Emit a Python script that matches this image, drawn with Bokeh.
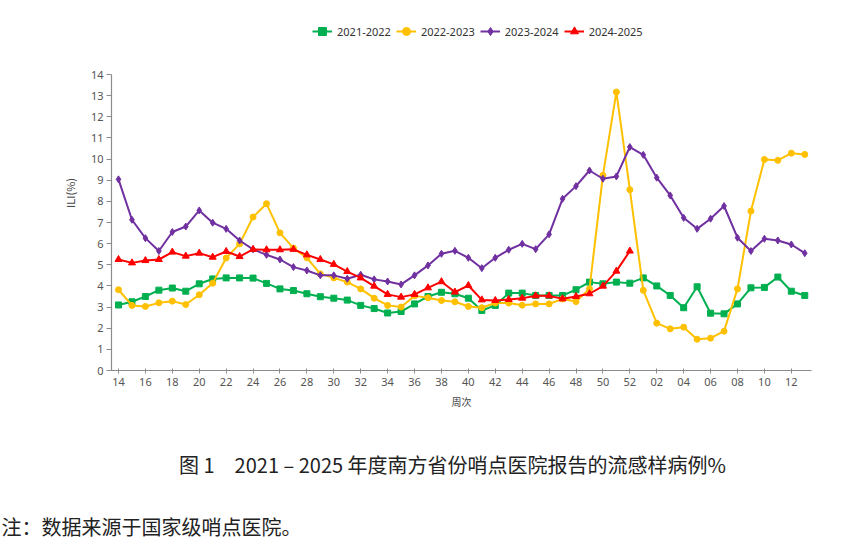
from bokeh.plotting import figure
from bokeh.models import Range1d, Legend, LegendItem, Label, FixedTicker
from bokeh.layouts import column
from bokeh.embed import file_html
from bokeh.resources import INLINE

weeks = [str(w) for w in range(14, 53)] + ["%02d" % w for w in range(1, 14)]

s2122 = [3.1, 3.25, 3.5, 3.8, 3.9, 3.75, 4.1, 4.33, 4.38, 4.38, 4.37, 4.12, 3.86, 3.78,
         3.63, 3.49, 3.42, 3.33, 3.08, 2.93, 2.72, 2.79, 3.15, 3.5, 3.7, 3.63,
         3.42, 2.84, 3.08, 3.66, 3.66, 3.55, 3.55, 3.55, 3.82, 4.18, 4.1, 4.18, 4.13,
         4.38, 4.0, 3.55, 2.97, 3.96, 2.71, 2.68, 3.15, 3.91, 3.93, 4.42, 3.75, 3.55]
s2223 = [3.82, 3.08, 3.03, 3.2, 3.28, 3.12, 3.58, 4.13, 5.32, 5.99, 7.26, 7.89, 6.51, 5.79,
         5.33, 4.57, 4.38, 4.18, 3.86, 3.42, 3.08, 3.0, 3.53, 3.44, 3.31, 3.25,
         3.03, 2.97, 3.19, 3.19, 3.09, 3.15, 3.15, 3.38, 3.26, 3.86, 9.23, 13.17, 8.55,
         3.79, 2.24, 1.97, 2.05, 1.48, 1.53, 1.86, 3.86, 7.54, 9.98, 9.94, 10.28, 10.22]
s2324 = [9.04, 7.13, 6.26, 5.65, 6.55, 6.81, 7.57, 6.99, 6.7, 6.15, 5.73, 5.47, 5.25, 4.89,
         4.73, 4.5, 4.5, 4.34, 4.53, 4.31, 4.21, 4.07, 4.5, 4.97, 5.52, 5.66,
         5.33, 4.84, 5.33, 5.71, 5.99, 5.74, 6.44, 8.12, 8.72, 9.46, 9.07, 9.18, 10.57,
         10.2, 9.12, 8.28, 7.22, 6.7, 7.18, 7.78, 6.28, 5.65, 6.23, 6.15, 5.96, 5.55]
s2425 = [5.25, 5.09, 5.2, 5.25, 5.6, 5.41, 5.55, 5.36, 5.63, 5.39, 5.73, 5.71, 5.71, 5.73,
         5.47, 5.25, 5.02, 4.68, 4.38, 3.99, 3.6, 3.47, 3.6, 3.91, 4.2, 3.71,
         4.02, 3.34, 3.31, 3.36, 3.42, 3.53, 3.53, 3.39, 3.5, 3.63, 3.99, 4.7, 5.65]

series_names = ["2021-2022", "2022-2023", "2023-2024", "2024-2025"]
series_values = [s2122, s2223, s2324, s2425]
y_ticks = list(range(0, 15))

caption = "图 1\u30002021 – 2025 年度南方省份哨点医院报告的流感样病例%"
note = "注：数据来源于国家级哨点医院。"

colors = ["#00B050", "#FFC000", "#7030A0", "#FF0000"]
markers = ["square", "circle", "diamond", "triangle"]
msizes = [6, 6, 7, 7]

W = 850
H_MAIN = 420
H_TEXT = 128

# frame: left 111, right 811, top 15 (so that 14 sits at y=74), bottom 370
px_per_unit = (370 - 74) / 14.0
y_top = (370 - 15) / px_per_unit

p = figure(width=W, height=H_MAIN, output_backend="svg", toolbar_location=None,
           x_range=Range1d(-0.52, 51.5), y_range=Range1d(0, y_top),
           min_border_left=111, min_border_right=W - 811, min_border_top=15,
           min_border_bottom=H_MAIN - 370)
p.outline_line_color = None
p.xgrid.visible = False
p.ygrid.visible = False
p.frame_align = False

xs = list(range(len(weeks)))
items = []
for name, vals, c, m, ms in zip(series_names, series_values, colors, markers, msizes):
    x = xs[:len(vals)]
    lr = p.line(x, vals, line_color=c, line_width=2)
    sr = p.scatter(x, vals, marker=m, size=ms, fill_color=c, line_color=c)
    items.append(LegendItem(label=name, renderers=[lr, sr]))

# legend row from y=21 to y=41 (frame bottom at 370)
legend = Legend(items=items, orientation="horizontal", location=(201, 370 - 41),
                border_line_color=None, background_fill_alpha=0, padding=0, margin=0,
                spacing=5, glyph_width=20, glyph_height=20, label_standoff=5,
                label_text_font="Noto Sans", label_text_font_size="11px",
                label_text_color="#333333", label_height=20)
p.add_layout(legend, "center")

axis_color = "#8c8c8c"
for ax in (p.xaxis[0], p.yaxis[0]):
    ax.axis_line_color = axis_color
    ax.axis_line_width = 1.2
    ax.major_tick_line_color = axis_color
    ax.minor_tick_line_color = None
    ax.major_label_text_font = "Noto Sans"
    ax.major_label_text_font_size = "11px"
    ax.major_label_text_color = "#555555"
    ax.axis_label_text_font = "Noto Sans CJK SC"
    ax.axis_label_text_font_style = "normal"
    ax.axis_label_text_color = "#444444"

p.yaxis[0].ticker = FixedTicker(ticks=y_ticks)
p.yaxis[0].bounds = (0, 14)
p.yaxis[0].major_tick_in = 0
p.yaxis[0].major_tick_out = 5
p.yaxis[0].axis_label = "ILI(%)"
p.yaxis[0].axis_label_text_font_size = "11px"
p.yaxis[0].axis_label_standoff = 10
p.yaxis[0].major_label_standoff = 3

tick_idx = list(range(0, len(weeks), 2))
p.xaxis[0].ticker = FixedTicker(ticks=tick_idx)
p.xaxis[0].major_tick_in = 2
p.xaxis[0].major_tick_out = 3
p.xaxis[0].major_label_overrides = {i: weeks[i] for i in tick_idx}
p.xaxis[0].axis_label = "周次"
p.xaxis[0].axis_label_text_font_size = "10px"
p.xaxis[0].axis_label_standoff = 5
p.xaxis[0].major_label_standoff = 4

# text panel below the chart
t = figure(width=W, height=H_TEXT, output_backend="svg", toolbar_location=None,
           x_range=Range1d(0, 1), y_range=Range1d(0, 1), x_axis_type=None, y_axis_type=None,
           min_border_left=0, min_border_right=0, min_border_top=0, min_border_bottom=0)
t.outline_line_color = None
t.xgrid.visible = False
t.ygrid.visible = False
t.frame_align = False
t.add_layout(Label(x=452, y=H_TEXT - (464 - H_MAIN), x_units="screen", y_units="screen",
                   text=caption, text_align="center", text_baseline="middle",
                   text_font="Noto Sans CJK SC", text_font_size="20px", text_color="#222222"))
t.add_layout(Label(x=1, y=H_TEXT - (526 - H_MAIN), x_units="screen", y_units="screen",
                   text=note, text_align="left", text_baseline="middle",
                   text_font="Noto Sans CJK SC", text_font_size="20px", text_color="#222222"))

layout = column(p, t, spacing=0)
open("out.html", "w").write(file_html(layout, INLINE))
